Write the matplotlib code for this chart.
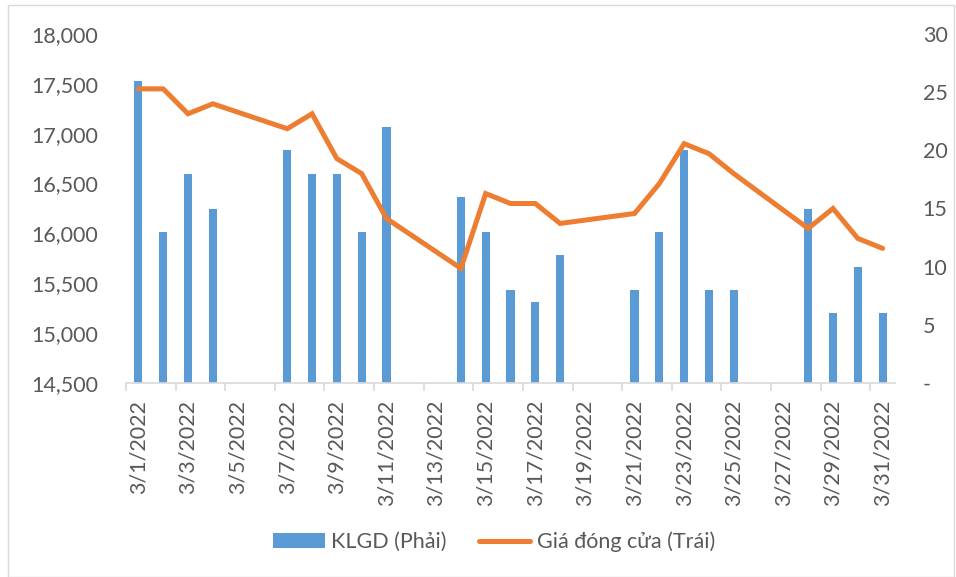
import matplotlib
matplotlib.use("Agg")
import matplotlib.pyplot as plt
from matplotlib.patches import Rectangle
from matplotlib.ticker import FuncFormatter, FixedLocator

plt.rcParams['font.family'] = ['Lato', 'DejaVu Sans']

all_days = list(range(1, 32))
date_labels = [f"3/{d}/2022" for d in all_days]

trade_days = [1, 2, 3, 4, 7, 8, 9, 10, 11, 14, 15, 16, 17, 18, 21, 22, 23, 24, 25, 28, 29, 30, 31]
volume = [26, 13, 18, 15, 20, 18, 18, 13, 22, 16, 13, 8, 7, 11, 8, 13, 20, 8, 8, 15, 6, 10, 6]
close_price = [17450, 17450, 17200, 17300, 17050, 17200, 16750, 16600, 16150, 15650, 16400, 16300,
               16300, 16100, 16200, 16500, 16900, 16800, 16600, 16050, 16250, 15950, 15850]

blue = '#5B9BD5'
orange = '#ED7D31'
txt = '#595959'
fs = 15.5

fig = plt.figure(figsize=(9.56, 5.77), dpi=100)
ax = fig.add_axes([126/956, 1-383/577, (895-126)/956, (383-34)/577])
ax2 = ax.twinx()

x_idx = [d - 1 for d in trade_days]
ax2.bar(x_idx, volume, width=0.33, color=blue, zorder=2, label='KLGD (Phải)')
ax.plot(x_idx, close_price, color=orange, lw=3.6, solid_capstyle='round', solid_joinstyle='miter',
        zorder=3, label='Giá đóng cửa (Trái)')
ax.set_zorder(ax2.get_zorder() + 1)
ax.patch.set_visible(False)

ax.set_xlim(-0.5, 30.5)
ax.set_ylim(14500, 18000)
ax2.set_ylim(0, 30)
ax.set_yticks(range(14500, 18001, 500))
ax.yaxis.set_major_formatter(FuncFormatter(lambda v, p: f"{int(v):,}"))
ax2.set_yticks(range(0, 31, 5))
ax2.yaxis.set_major_formatter(FuncFormatter(lambda v, p: "-" if v == 0 else f"{int(v)}"))

ax.set_xticks(list(range(0, 31, 2)))
ax.set_xticklabels(date_labels[::2], rotation=90)
ax.xaxis.set_minor_locator(FixedLocator([i - 0.5 for i in range(0, 32, 2)]))
ax.tick_params(axis='x', which='major', length=0, pad=12, labelsize=fs, labelcolor=txt)
ax.tick_params(axis='x', which='minor', length=6, color='#D9D9D9', width=1.2)
ax.tick_params(axis='y', length=0, pad=20, labelsize=fs, labelcolor=txt)
ax2.tick_params(axis='y', length=0, pad=20, labelsize=fs, labelcolor=txt)

for a in (ax, ax2):
    for s in a.spines.values():
        s.set_visible(False)
ax.spines['bottom'].set_visible(True)
ax.spines['bottom'].set_color('#D9D9D9')
ax.spines['bottom'].set_linewidth(1.2)

h1, l1 = ax2.get_legend_handles_labels()
h2, l2 = ax.get_legend_handles_labels()
leg = fig.legend(h1 + h2, l1 + l2, loc='center', bbox_to_anchor=(494/956, 1-542/577), ncol=2,
                 frameon=False, fontsize=fs, handlelength=2.4, handleheight=0.7,
                 columnspacing=1.5, handletextpad=0.3)
for t in leg.get_texts():
    t.set_color(txt)

fig.patches.append(Rectangle((8/956, 0.5/577), 946/956, 572/577, transform=fig.transFigure,
                             fill=False, edgecolor='#D9D9D9', lw=1.0))

fig.savefig('out.png', dpi=100)
